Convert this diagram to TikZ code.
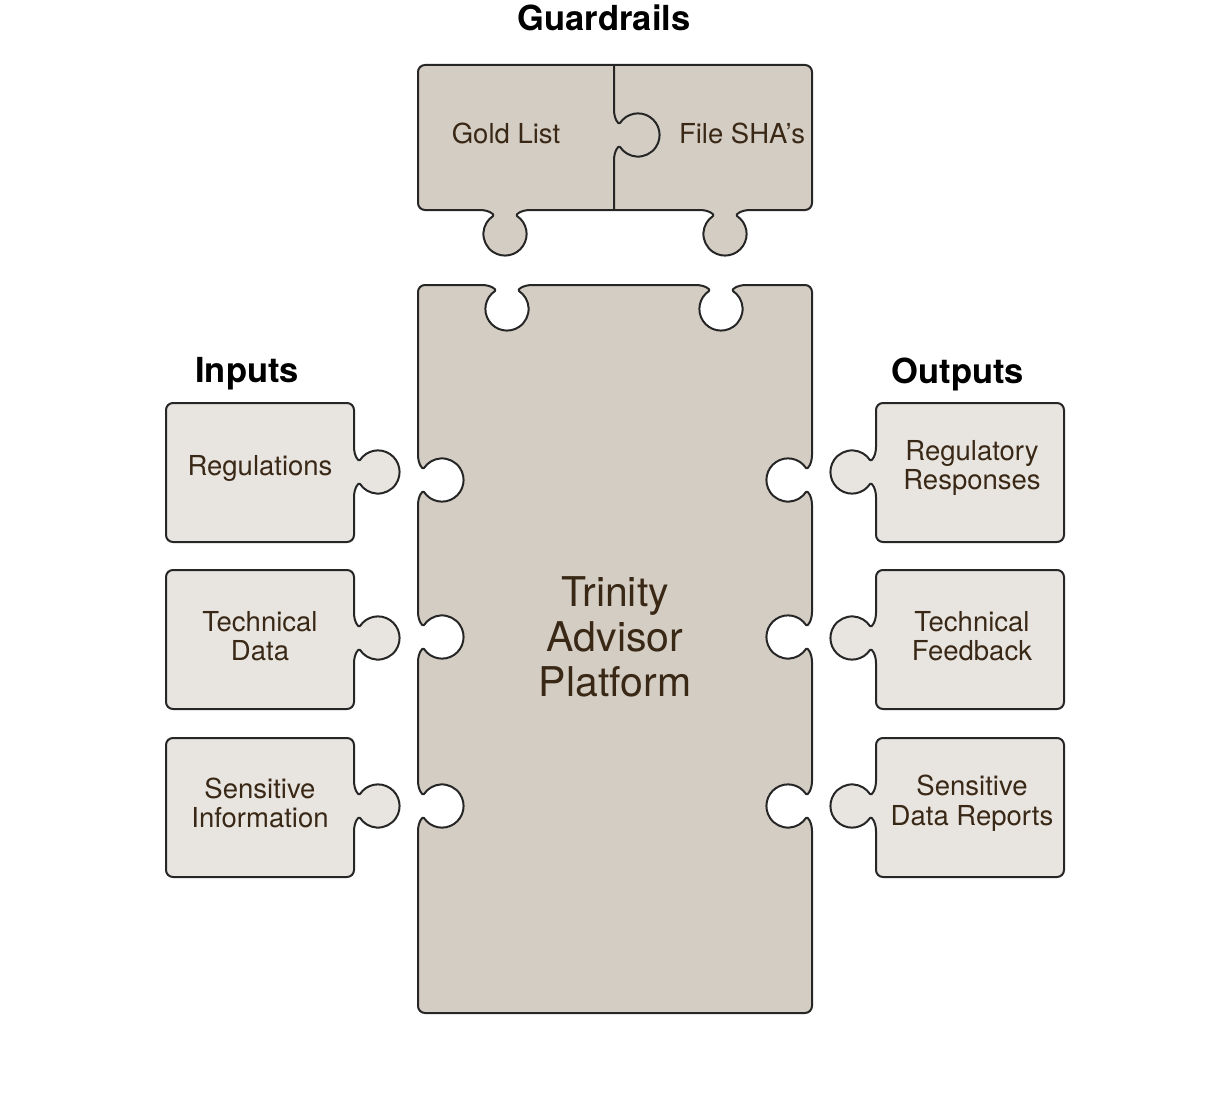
\documentclass[tikz,border=0pt]{standalone}
\usepackage{fontspec}
\setmainfont{TeX Gyre Heros}
\definecolor{mainfill}{HTML}{D4CDC3}
\definecolor{lightfill}{HTML}{E8E5E0}
\definecolor{txt}{HTML}{3A2816}
\newcommand{\redge}[3]{-- (#1,#2-25) .. controls (#1,#2-17) and (#1+4.3*#3,#2-9.5) .. (#1+6*#3,#2-12) arc[start angle={90+#3*123.7}, delta angle={#3*292.6}, radius=21.6] .. controls (#1+4.3*#3,#2+9.5) and (#1,#2+17) .. (#1,#2+25)}
\newcommand{\ledge}[3]{-- (#1,#2+25) .. controls (#1,#2+17) and (#1-4.3*#3,#2+9.5) .. (#1-6*#3,#2+12) arc[start angle={270+#3*123.7}, delta angle={#3*292.6}, radius=21.6] .. controls (#1-4.3*#3,#2-9.5) and (#1,#2-17) .. (#1,#2-25)}
\newcommand{\tedge}[3]{-- (#2-25,#1) .. controls (#2-17,#1) and (#2-9.5,#1-4.3*#3) .. (#2-12,#1-6*#3) arc[start angle={#3*123.7}, delta angle={#3*292.6}, radius=21.6] .. controls (#2+9.5,#1-4.3*#3) and (#2+17,#1) .. (#2+25,#1)}
\newcommand{\bedge}[3]{-- (#2+25,#1) .. controls (#2+17,#1) and (#2+9.5,#1+4.3*#3) .. (#2+12,#1+6*#3) arc[start angle={180+#3*123.7}, delta angle={#3*292.6}, radius=21.6] .. controls (#2-9.5,#1+4.3*#3) and (#2-17,#1) .. (#2-25,#1)}
\newcommand{\cTL}[2]{-- (#1,#2+7) arc[start angle=180, delta angle=90, radius=7]}
\newcommand{\cTR}[2]{-- (#1-7,#2) arc[start angle=270, delta angle=90, radius=7]}
\newcommand{\cBR}[2]{-- (#1,#2-7) arc[start angle=0, delta angle=90, radius=7]}
\newcommand{\cBL}[2]{-- (#1+7,#2) arc[start angle=90, delta angle=90, radius=7]}
\tikzset{
 piece/.style={draw=black!85, line width=2pt, line join=round},
 lab/.style={text=txt, font=\fontsize{27.5}{29.5}\selectfont, align=center},
 head/.style={font=\bfseries\fontsize{34.5}{37}\selectfont, text=black},
}
\begin{document}
\begin{tikzpicture}[x=1pt,y=-1pt]
\useasboundingbox (0,0) rectangle (1232,1108);
% main
\path[piece, fill=mainfill] (460,285) \tedge{285}{507}{-1} \tedge{285}{721}{-1} \cTR{812}{285}
 \redge{812}{480}{-1} \redge{812}{637}{-1} \redge{812}{806}{-1} \cBR{812}{1013} \cBL{418}{1013}
 \ledge{418}{806}{-1} \ledge{418}{637}{-1} \ledge{418}{480}{-1} \cTL{418}{285} -- cycle;
% guardrails
\path[piece, fill=mainfill] (614,65) \cTR{812}{65} \cBR{812}{210} \bedge{210}{725}{1} \bedge{210}{505}{1} \cBL{418}{210} \cTL{418}{65} -- cycle;
\draw[piece] (614,65) \redge{614}{135}{1} -- (614,210);
% inputs / outputs
\foreach \t/\c in {403/472, 570/638, 738/806}{
 \path[piece, fill=lightfill] (260,\t) \cTR{354}{\t} \redge{354}{\c}{1} \cBR{354}{\t+139} \cBL{166}{\t+139} \cTL{166}{\t} -- cycle;
 \path[piece, fill=lightfill] (970,\t) \cTR{1064}{\t} \cBR{1064}{\t+139} \cBL{876}{\t+139} \ledge{876}{\c}{1} \cTL{876}{\t} -- cycle;
}
\node[lab] (gold) at (506,133) {Gold List};
\node[lab] (sha) at (742,133) {File SHA's};
\node[lab] (reg) at (260,468) {Regulations};
\node[lab] (tech) at (260,636) {Technical\\Data};
\node[lab] (sens) at (260,803) {Sensitive\\Information};
\node[lab] (rr) at (972,468) {Regulatory\\Responses};
\node[lab] (tf) at (972,636) {Technical\\Feedback};
\node[lab] (sdr) at (972,803) {Sensitive\\Data Reports};
\node[lab, font=\fontsize{41}{45}\selectfont] (tap) at (615,637) {Trinity\\Advisor\\Platform};
\node[head] (hg) at (604,18) {Guardrails};
\node[head] (hi) at (247,374) {Inputs};
\node[head] (ho) at (958,374) {Outputs};
\end{tikzpicture}
\end{document}
